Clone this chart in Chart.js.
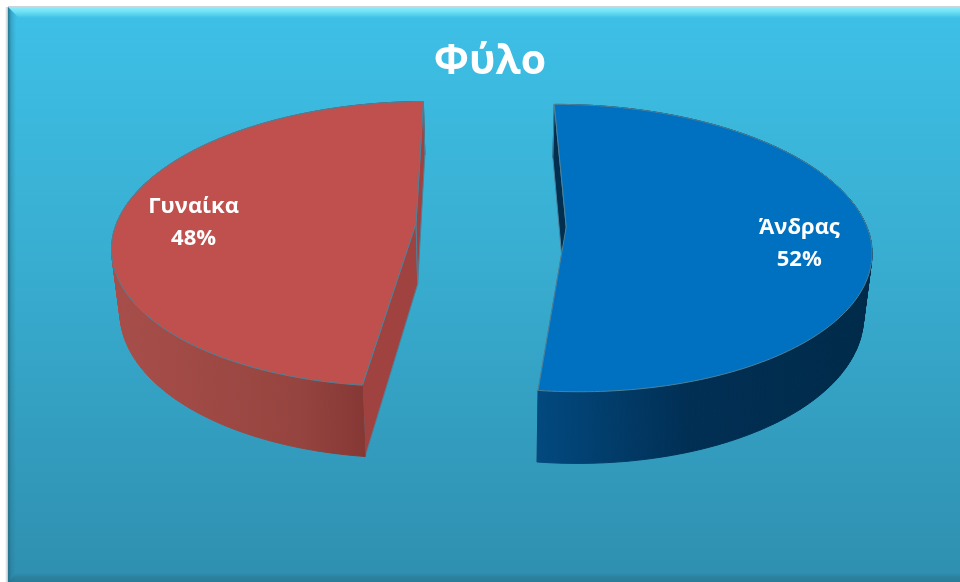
<!DOCTYPE html>
<html lang="el">
<head>
<meta charset="utf-8">
<title>Φύλο</title>
<script src="https://cdn.jsdelivr.net/npm/chart.js@4"></script>
<style>
    html, body { margin: 0; padding: 0; background: #fff; }
    canvas { display: block; }
</style>
</head>
<body>
<canvas id="chartFylo" width="960" height="582"></canvas>
<script>
// ============== DATA ==============
const categories = ['Άνδρας', 'Γυναίκα'];
const percentValues = [52, 48];
const chartTitle = 'Φύλο';

// ============== STYLE ==============
const topColors = ['#0070c0', '#c0504d'];
const cutColors = ['#022e50', '#a0423f'];
const wallStops = [
    [[0, '#002a49'], [0.55, '#012f54'], [1, '#02497f']],
    [[0, '#782d2c'], [0.4, '#96443f'], [1, '#a84e4a']]
];
const edgeColor = '#4d8299';
const labelPlacement = [
    { radius: 0.77, dy: 11 },
    { radius: 0.75, dy: 5 }
];

// Tilted view of the pie: a flat disc seen in perspective, with a depth for the walls
const view = { cx: 491, cy: 225, rx: 300, ry: 140, tilt: 0.147, depth: 61, taper: 0.022 };

function project(u, v, z) {
    const w = 1 - view.tilt * v;
    return {
        x: view.cx + view.rx * u / w * (1 - view.taper * z),
        y: view.cy + view.ry * v / w + z * view.depth / w
    };
}

// Turn an arc element into unit-disc coordinates
function discOf(arc) {
    const mid = (arc.startAngle + arc.endAngle) / 2;
    const off = arc.options.offset / arc.outerRadius;
    return {
        start: arc.startAngle,
        end: arc.endAngle,
        mid: mid,
        ox: Math.cos(mid) * off,
        oy: Math.sin(mid) * off
    };
}

function rimPoint(disc, angle, z) {
    return project(disc.ox + Math.cos(angle), disc.oy + Math.sin(angle), z);
}

function rimAngles(disc) {
    const list = [];
    const step = Math.PI / 180;
    for (let a = disc.start; a < disc.end; a += step) list.push(a);
    list.push(disc.end);
    return list;
}

function tracePath(ctx, points) {
    ctx.beginPath();
    points.forEach((p, i) => (i ? ctx.lineTo(p.x, p.y) : ctx.moveTo(p.x, p.y)));
    ctx.closePath();
}

function fillPath(ctx, points, fill) {
    tracePath(ctx, points);
    ctx.fillStyle = fill;
    ctx.fill();
    ctx.strokeStyle = edgeColor;
    ctx.lineWidth = 1;
    ctx.stroke();
}

function drawSlice(ctx, arc, i) {
    const disc = discOf(arc);
    const angles = rimAngles(disc);
    const apexTop = project(disc.ox, disc.oy, 0);
    const apexBottom = project(disc.ox, disc.oy, 1);
    const top = angles.map(a => rimPoint(disc, a, 0));
    const bottom = angles.map(a => rimPoint(disc, a, 1));

    const drawCut = a => fillPath(ctx, [apexTop, rimPoint(disc, a, 0), rimPoint(disc, a, 1), apexBottom], cutColors[i]);
    const isNear = a => Math.sin(a) > 0;

    // Cut face on the viewer's side goes under the outer wall
    [disc.start, disc.end].filter(isNear).forEach(drawCut);

    // Outer wall, shaded along its width. Drawn strip by strip so the silhouette stays closed
    const xs = top.map(p => p.x);
    const grad = ctx.createLinearGradient(Math.max(...xs), 0, Math.min(...xs), 0);
    wallStops[i].forEach(s => grad.addColorStop(s[0], s[1]));
    ctx.fillStyle = grad;
    ctx.strokeStyle = grad;
    ctx.lineWidth = 1;
    for (let k = 1; k < top.length; k++) {
        tracePath(ctx, [top[k - 1], top[k], bottom[k], bottom[k - 1]]);
        ctx.fill();
        ctx.stroke();
    }

    // Far cut face sits over the hidden part of the wall
    [disc.start, disc.end].filter(a => !isNear(a)).forEach(drawCut);

    // Top face
    fillPath(ctx, [apexTop].concat(top), topColors[i]);
}

// ============== PLUGINS ==============
const backdropPlugin = {
    id: 'backdrop',
    beforeDraw(chart) {
        const ctx = chart.ctx;
        const w = chart.width, h = chart.height;
        const left = 8, top = 7;

        ctx.save();
        ctx.fillStyle = '#fff';
        ctx.fillRect(0, 0, w, h);

        // Soft shadow around the panel
        const shade = ctx.createLinearGradient(left - 3, 0, left, 0);
        shade.addColorStop(0, '#ffffff');
        shade.addColorStop(1, '#b9c3c8');
        ctx.fillStyle = shade;
        ctx.fillRect(left - 3, top, 3, h - top);
        ctx.fillStyle = '#c9d6dc';
        ctx.fillRect(left, top - 1, w - left, 1);

        const bg = ctx.createLinearGradient(0, top, 0, h);
        bg.addColorStop(0, '#3ec0e7');
        bg.addColorStop(0.45, '#38add0');
        bg.addColorStop(1, '#2f8fb0');
        ctx.fillStyle = bg;
        ctx.fillRect(left, top, w - left, h - top);

        // Bevel: lit top, darker left and bottom edges
        const topBevel = ctx.createLinearGradient(0, top, 0, top + 11);
        topBevel.addColorStop(0, '#8eeefa');
        topBevel.addColorStop(0.4, '#70e2f6');
        topBevel.addColorStop(1, '#3ec0e7');
        ctx.fillStyle = topBevel;
        ctx.beginPath();
        ctx.moveTo(left, top);
        ctx.lineTo(w, top);
        ctx.lineTo(w, top + 11);
        ctx.lineTo(left + 11, top + 11);
        ctx.closePath();
        ctx.fill();

        const leftBevel = ctx.createLinearGradient(left, 0, left + 8, 0);
        leftBevel.addColorStop(0, 'rgba(35,110,135,0.9)');
        leftBevel.addColorStop(0.4, 'rgba(35,110,135,0.3)');
        leftBevel.addColorStop(1, 'rgba(35,110,135,0)');
        ctx.fillStyle = leftBevel;
        ctx.beginPath();
        ctx.moveTo(left, top);
        ctx.lineTo(left + 8, top + 8);
        ctx.lineTo(left + 8, h);
        ctx.lineTo(left, h);
        ctx.closePath();
        ctx.fill();

        const bottomBevel = ctx.createLinearGradient(0, h - 9, 0, h);
        bottomBevel.addColorStop(0, 'rgba(40,115,140,0)');
        bottomBevel.addColorStop(0.4, 'rgba(40,115,140,0.45)');
        bottomBevel.addColorStop(1, 'rgba(40,115,140,0.7)');
        ctx.fillStyle = bottomBevel;
        ctx.beginPath();
        ctx.moveTo(left, h);
        ctx.lineTo(left + 9, h - 9);
        ctx.lineTo(w, h - 9);
        ctx.lineTo(w, h);
        ctx.closePath();
        ctx.fill();
        ctx.restore();
    }
};

const tiltedPiePlugin = {
    id: 'tiltedPie',
    beforeDatasetDraw(chart, args) {
        const ctx = chart.ctx;
        const arcs = args.meta.data;
        ctx.save();
        ctx.lineJoin = 'round';
        arcs.forEach((arc, i) => drawSlice(ctx, arc, i));

        // Labels: category name with its percentage
        ctx.fillStyle = '#fff';
        ctx.font = 'bold 22px "Open Sans"';
        ctx.textAlign = 'center';
        ctx.textBaseline = 'middle';
        arcs.forEach((arc, i) => {
            const disc = discOf(arc);
            const place = labelPlacement[i];
            const p = project(
                disc.ox + Math.cos(disc.mid) * place.radius,
                disc.oy + Math.sin(disc.mid) * place.radius,
                0
            );
            ctx.fillText(categories[i], p.x, p.y + place.dy - 16);
            ctx.fillText(percentValues[i] + '%', p.x, p.y + place.dy + 16);
        });
        ctx.restore();
        return false;
    }
};

// ============== CHART ==============
function initChartFylo() {
    const ctx = document.getElementById('chartFylo').getContext('2d');
    return new Chart(ctx, {
        type: 'pie',
        data: {
            labels: categories,
            datasets: [{
                data: percentValues,
                backgroundColor: topColors,
                borderWidth: 0,
                offset: 55
            }]
        },
        options: {
            responsive: false,
            animation: false,
            rotation: -0.5,
            layout: { padding: { left: 20 } },
            plugins: {
                legend: { display: false },
                tooltip: { enabled: false },
                title: {
                    display: true,
                    text: chartTitle,
                    color: '#fff',
                    font: { family: '"Open Sans"', size: 41, weight: 'bold' },
                    padding: { top: 38, bottom: 1 }
                }
            }
        },
        plugins: [backdropPlugin, tiltedPiePlugin]
    });
}

initChartFylo();
</script>
</body>
</html>
